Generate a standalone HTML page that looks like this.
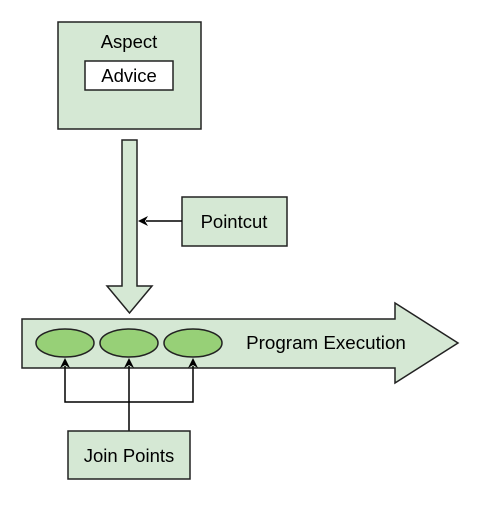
<!DOCTYPE html>
<html><head><style>body{margin:0;background:#fff}</style></head><body>
<svg width="482" height="504" viewBox="0 0 482 504" xmlns="http://www.w3.org/2000/svg" font-family="Liberation Sans, sans-serif">
<rect x="58" y="22" width="143" height="107" fill="#d5e8d4" stroke="#222" stroke-width="1.5"/>
<text x="129" y="48" font-size="18.5" text-anchor="middle">Aspect</text>
<rect x="85" y="61" width="88" height="29" fill="#fff" stroke="#222" stroke-width="1.5"/>
<text x="129" y="82" font-size="18.5" text-anchor="middle">Advice</text>
<polygon points="122,140 137,140 137,286 152,286 129.5,313 107,286 122,286" fill="#d5e8d4" stroke="#222" stroke-width="1.5"/>
<rect x="182" y="197" width="105" height="49" fill="#d5e8d4" stroke="#222" stroke-width="1.5"/>
<text x="234" y="228" font-size="18.5" text-anchor="middle">Pointcut</text>
<line x1="182" y1="221" x2="146" y2="221" stroke="#000" stroke-width="1.5"/>
<polygon points="138,221 148,216 145,221 148,226" fill="#000"/>
<polygon points="22,319 395,319 395,303 458,343 395,383 395,368 22,368" fill="#d5e8d4" stroke="#222" stroke-width="1.5"/>
<text x="326" y="349" font-size="18.8" text-anchor="middle">Program Execution</text>
<ellipse cx="65" cy="343" rx="29" ry="14" fill="#97d077" stroke="#222" stroke-width="1.5"/>
<ellipse cx="129" cy="343" rx="29" ry="14" fill="#97d077" stroke="#222" stroke-width="1.5"/>
<ellipse cx="193" cy="343" rx="29" ry="14" fill="#97d077" stroke="#222" stroke-width="1.5"/>
<path d="M129,431 V366 M65,366 V402 H193 V366" fill="none" stroke="#000" stroke-width="1.5"/>
<polygon points="65,358 70,368 65,365 60,368" fill="#000"/>
<polygon points="129,358 134,368 129,365 124,368" fill="#000"/>
<polygon points="193,358 198,368 193,365 188,368" fill="#000"/>
<rect x="68" y="431" width="122" height="48" fill="#d5e8d4" stroke="#222" stroke-width="1.5"/>
<text x="129" y="462" font-size="18.5" text-anchor="middle">Join Points</text>
</svg>
</body></html>
